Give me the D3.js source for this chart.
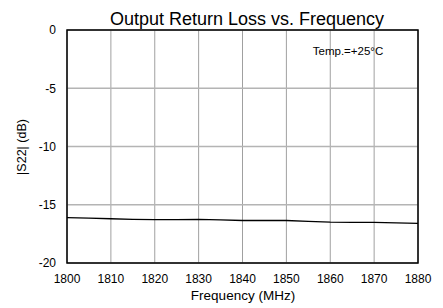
<!DOCTYPE html>
<html><head><meta charset="utf-8">
<script src="https://cdn.jsdelivr.net/npm/d3@7"></script>
<style>body{margin:0;background:#fff;} text{font-family:"Liberation Sans",Arial,sans-serif;}</style>
</head><body><svg id="c" width="443" height="308"></svg>
<script>
const freq = [1800,1805,1810,1815,1820,1825,1830,1835,1840,1845,1850,1855,1860,1865,1870,1875,1880];
const s22 = [-16.1,-16.15,-16.2,-16.25,-16.28,-16.27,-16.25,-16.3,-16.35,-16.35,-16.35,-16.42,-16.5,-16.51,-16.52,-16.56,-16.6];
const xTicks = [1800,1810,1820,1830,1840,1850,1860,1870,1880];
const yTicks = [0,-5,-10,-15,-20];

const svg = d3.select("#c");
const m = {l:67,r:418,t:30,b:263};
const x = d3.scaleLinear().domain([1800,1880]).range([m.l,m.r]);
const y = d3.scaleLinear().domain([-20,0]).range([m.b,m.t]);

svg.append("g").selectAll("line").data(xTicks).join("line")
  .attr("x1",d=>x(d)).attr("x2",d=>x(d)).attr("y1",m.t).attr("y2",m.b)
  .attr("stroke","#a0a0a0").attr("stroke-width",1);
svg.append("g").selectAll("line").data(yTicks).join("line")
  .attr("x1",m.l).attr("x2",m.r).attr("y1",d=>y(d)).attr("y2",d=>y(d))
  .attr("stroke","#b4b4b4").attr("stroke-width",1.5);

svg.append("rect").attr("x",m.l).attr("y",m.t).attr("width",m.r-m.l).attr("height",m.b-m.t)
  .attr("fill","none").attr("stroke","#000").attr("stroke-width",1.5);

svg.append("path").datum(freq.map((f,i)=>[f,s22[i]]))
  .attr("d",d3.line().x(d=>x(d[0])).y(d=>y(d[1])))
  .attr("fill","none").attr("stroke","#000").attr("stroke-width",1.3);

svg.append("g").selectAll("text").data(xTicks).join("text")
  .attr("x",d=>x(d)).attr("y",282.5).attr("text-anchor","middle")
  .attr("font-size",12).text(d=>d);
svg.append("g").selectAll("text").data(yTicks).join("text")
  .attr("x",56).attr("y",d=>y(d)+4.3).attr("text-anchor","end")
  .attr("font-size",12).text(d=>d);

svg.append("text").attr("x",247).attr("y",25).attr("text-anchor","middle")
  .attr("font-size",18).text("Output Return Loss vs. Frequency");
svg.append("text").attr("x",243).attr("y",300).attr("text-anchor","middle")
  .attr("font-size",13.5).text("Frequency (MHz)");
svg.append("text").attr("transform","translate(26,147) rotate(-90)").attr("text-anchor","middle")
  .attr("font-size",12.5).text("|S22| (dB)");
svg.append("text").attr("x",348).attr("y",55).attr("text-anchor","middle")
  .attr("font-size",11.5).text("Temp.=+25°C");
</script></body></html>
